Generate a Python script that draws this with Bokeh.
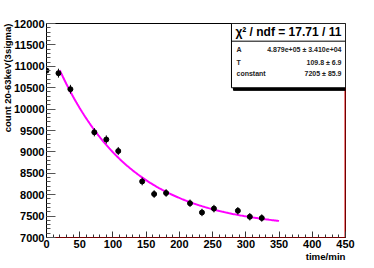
import numpy as np
from bokeh.plotting import figure
from bokeh.models import Range1d, SingleIntervalTicker, Label, ColumnDataSource, Title
from bokeh.embed import file_html
from bokeh.resources import INLINE

# data
time_min = [0, 18, 36, 72, 90, 108, 144, 162, 180, 216, 234, 252, 288, 306, 324]
counts = [10900, 10840, 10465, 9460, 9290, 9020, 8310, 8015, 8040, 7800, 7585, 7675, 7625, 7485, 7455]
errors = [104, 104, 102, 97, 96, 95, 91, 90, 90, 88, 87, 88, 87, 87, 86]

# fit parameters shown in the stats box: f(t) = A/T*exp(-t/T) + constant
fit_A = 4.879e5
fit_T = 109.8
fit_c = 7205
fit_range = [20, 350]

stat_names = ["A", "T", "constant"]
stat_values = ["4.879e+05 \u00b1 3.410e+04", "109.8 \u00b1 6.9", "7205 \u00b1 85.9"]
stat_title = "\u03c7\u00b2 / ndf = 17.71 / 11"

FONT = "Liberation Sans"

p = figure(width=374, height=268, output_backend="svg", toolbar_location=None,
           x_range=Range1d(0, 450), y_range=Range1d(7000, 12000),
           min_border_left=46, min_border_right=29, min_border_top=23, min_border_bottom=31)
p.grid.visible = False
p.outline_line_color = "black"
p.outline_line_width = 1
p.background_fill_color = "white"
p.border_fill_color = "white"

for ax, interval in ((p.xaxis, 50), (p.yaxis, 500)):
    ax.ticker = SingleIntervalTicker(interval=interval, num_minor_ticks=5)
    ax.major_label_text_font = FONT
    ax.major_label_text_font_style = "bold"
    ax.major_label_text_font_size = "11px"
    ax.major_label_text_color = "black"
    ax.major_tick_out = 0
    ax.minor_tick_out = 0
    ax.major_label_standoff = 2

p.yaxis.major_tick_in = 9
p.yaxis.minor_tick_in = 4
p.xaxis.major_tick_in = 6
p.xaxis.minor_tick_in = 3
p.yaxis.major_tick_line_color = "#555555"
p.yaxis.minor_tick_line_color = "#555555"
p.xaxis.major_tick_line_color = "#333333"
p.xaxis.minor_tick_line_color = "#333333"
p.xaxis.axis_line_color = "#7a0000"
p.yaxis.axis_line_color = "black"

# axis titles (top / right aligned like the reference)
ytitle = Title(text="count 20-63keV(3sigma)", align="right", vertical_align="top",
               text_font=FONT, text_font_style="bold", text_font_size="9.5px",
               text_color="black", standoff=-8)
p.add_layout(ytitle, "left")
xtitle = Title(text="time/min", align="right", vertical_align="top",
               text_font=FONT, text_font_style="bold", text_font_size="9.7px",
               text_color="black", standoff=0)
p.add_layout(xtitle, "below")

# fit curve from the listed parameters
fx = np.linspace(fit_range[0], fit_range[1], 200)
fy = fit_A / fit_T * np.exp(-fx / fit_T) + fit_c
p.line(fx, fy, line_color="#ff00ff", line_width=2)

# data with error bars
src = ColumnDataSource(dict(x=time_min, y=counts,
                            lo=[c - e for c, e in zip(counts, errors)],
                            hi=[c + e for c, e in zip(counts, errors)]))
p.segment(x0="x", y0="lo", x1="x", y1="hi", source=src, line_color="black", line_width=1)
p.scatter(x="x", y="y", source=src, size=5, color="black")

# right red edge
p.segment(x0=[450], y0=[7000], x1=[450], y1=[10500], line_color="#dd0000", line_width=2)

# stats box
bx0, bx1, by0, by1 = 278.4, 450, 10498, 12000
p.quad(left=[bx0 + 3], right=[bx1 + 3], bottom=[by0 - 60], top=[by1 - 60], fill_color="black", line_color="black")
p.quad(left=[bx0], right=[bx1], bottom=[by0], top=[by1], fill_color="white", line_color="black", line_width=1)
p.segment(x0=[bx0], y0=[11587], x1=[bx1], y1=[11587], line_color="black", line_width=1)

p.add_layout(Label(x=364, y=11797, text=stat_title, text_font=FONT, text_font_style="bold",
                   text_font_size="12px", text_align="center", text_baseline="middle", text_color="black"))
row_y = [11386, 11096, 10825]
for name, val, yy in zip(stat_names, stat_values, row_y):
    p.add_layout(Label(x=286, y=yy, text=name, text_font=FONT, text_font_style="bold",
                       text_font_size="7px", text_align="left", text_baseline="middle", text_color="#222222"))
    p.add_layout(Label(x=444, y=yy, text=val, text_font=FONT, text_font_style="bold",
                       text_font_size="7px", text_align="right", text_baseline="middle", text_color="#222222"))

open("out.html", "w").write(file_html(p, INLINE))
